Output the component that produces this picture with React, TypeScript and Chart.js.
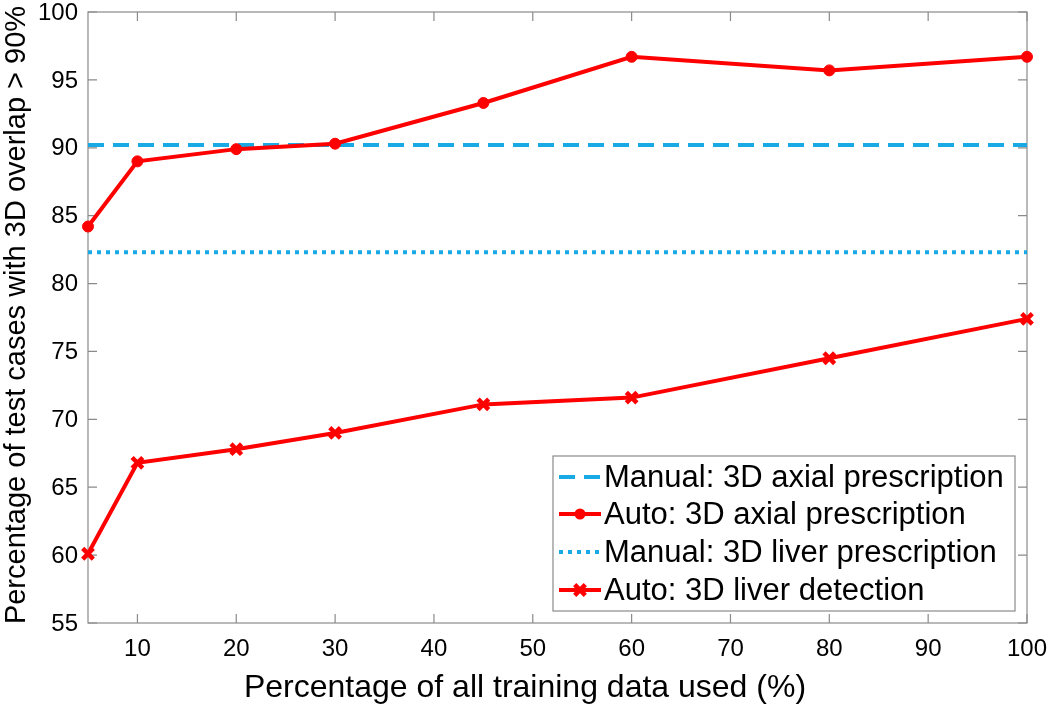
import React, { useEffect, useRef } from "react";
import { Chart, registerables } from "chart.js";
Chart.register(...registerables);

const trainingPct = [5, 10, 20, 30, 45, 60, 80, 100];
const autoAxial = [84.2, 89.0, 89.9, 90.3, 93.3, 96.7, 95.7, 96.7];
const autoLiver = [60.1, 66.8, 67.8, 69.0, 71.1, 71.6, 74.5, 77.4];
const manualAxial = [90.2, 90.2];
const manualLiver = [82.3, 82.3];
const manualX = [5, 100];
const xTicks = [10, 20, 30, 40, 50, 60, 70, 80, 90, 100];
const yTicks = [55, 60, 65, 70, 75, 80, 85, 90, 95, 100];
const seriesLabels = [
  "Manual: 3D axial prescription",
  "Auto: 3D axial prescription",
  "Manual: 3D liver prescription",
  "Auto: 3D liver detection",
];
const xTitle = "Percentage of all training data used (%)";
const yTitle = "Percentage of test cases with 3D overlap > 90%";

const FONT = "'Liberation Sans', Arial, Helvetica, sans-serif";
const BLUE = "#19aae6";
const RED = "#ff0000";
const FRAME = "#8a8a8a";

const framePlugin = {
  id: "frameTicks",
  beforeDatasetsDraw(chart: any) {
    const { ctx, chartArea: a, scales } = chart;
    const xs = scales.x;
    const ys = scales.y;
    ctx.save();
    ctx.strokeStyle = FRAME;
    ctx.lineWidth = 1.2;
    ctx.strokeRect(a.left, a.top, a.right - a.left, a.bottom - a.top);
    const tl = 9;
    ctx.beginPath();
    xTicks.forEach((v) => {
      const px = xs.getPixelForValue(v);
      ctx.moveTo(px, a.bottom);
      ctx.lineTo(px, a.bottom - tl);
      ctx.moveTo(px, a.top);
      ctx.lineTo(px, a.top + tl);
    });
    yTicks.forEach((v) => {
      const py = ys.getPixelForValue(v);
      ctx.moveTo(a.left, py);
      ctx.lineTo(a.left + tl, py);
      ctx.moveTo(a.right, py);
      ctx.lineTo(a.right - tl, py);
    });
    ctx.stroke();

    // tick labels
    ctx.fillStyle = "#000";
    ctx.font = `24px ${FONT}`;
    ctx.textAlign = "center";
    ctx.textBaseline = "middle";
    xTicks.forEach((v) => {
      ctx.fillText(String(v), xs.getPixelForValue(v), a.bottom + 26);
    });
    ctx.textAlign = "right";
    yTicks.forEach((v) => {
      ctx.fillText(String(v), a.left - 10, ys.getPixelForValue(v) + 1);
    });
    ctx.restore();
  },
  afterDraw(chart: any) {
    const { ctx } = chart;
    ctx.save();
    ctx.fillStyle = "#000";
    ctx.font = `32px ${FONT}`;
    ctx.textAlign = "center";
    ctx.textBaseline = "middle";
    ctx.fillText(xTitle, 525, 688);
    ctx.translate(17, 315);
    ctx.rotate(-Math.PI / 2);
    ctx.font = `29px ${FONT}`;
    ctx.fillText(yTitle, 0, 0);
    ctx.restore();

    // legend
    ctx.save();
    const bx = 553, by = 456, bw = 1015 - 553, bh = 611 - 456;
    ctx.fillStyle = "#fff";
    ctx.fillRect(bx, by, bw, bh);
    ctx.strokeStyle = FRAME;
    ctx.lineWidth = 1.2;
    ctx.strokeRect(bx, by, bw, bh);
    const rows = [477, 514, 552, 590];
    const ds = chart.data.datasets;
    const x0 = 559, x1 = 601;
    rows.forEach((ry, i) => {
      const d = ds[i];
      ctx.save();
      ctx.strokeStyle = d.borderColor;
      ctx.lineWidth = d.borderWidth;
      ctx.setLineDash(d.borderDash || []);
      ctx.beginPath();
      ctx.moveTo(x0, ry);
      ctx.lineTo(x1, ry);
      ctx.stroke();
      ctx.setLineDash([]);
      const cx = (x0 + x1) / 2;
      if (d.pointStyle === "circle" && d.pointRadius > 0) {
        ctx.fillStyle = d.pointBackgroundColor;
        ctx.beginPath();
        ctx.arc(cx, ry, d.pointRadius, 0, Math.PI * 2);
        ctx.fill();
      } else if (d.pointStyle === "crossRot" && d.pointRadius > 0) {
        const r = d.pointRadius * 0.707;
        ctx.strokeStyle = d.pointBorderColor;
        ctx.lineWidth = d.pointBorderWidth;
        ctx.beginPath();
        ctx.moveTo(cx - r, ry - r);
        ctx.lineTo(cx + r, ry + r);
        ctx.moveTo(cx - r, ry + r);
        ctx.lineTo(cx + r, ry - r);
        ctx.stroke();
      }
      ctx.restore();
      ctx.fillStyle = "#000";
      ctx.font = `31px ${FONT}`;
      ctx.textAlign = "left";
      ctx.textBaseline = "middle";
      ctx.fillText(d.label, 604, ry + 1);
    });
    ctx.restore();
  },
};

export default function App() {
  const ref = useRef<HTMLCanvasElement | null>(null);
  useEffect(() => {
    if (!ref.current) return;
    const chart = new Chart(ref.current, {
      type: "line",
      data: {
        datasets: [
          {
            label: seriesLabels[0],
            data: manualX.map((x, i) => ({ x, y: manualAxial[i] })),
            borderColor: BLUE,
            borderWidth: 4,
            borderDash: [16, 9],
            pointRadius: 0,
            pointStyle: "circle",
            order: 1,
            clip: false as any,
          },
          {
            label: seriesLabels[1],
            data: trainingPct.map((x, i) => ({ x, y: autoAxial[i] })),
            borderColor: RED,
            borderWidth: 4,
            pointStyle: "circle",
            pointRadius: 5.5,
            pointBackgroundColor: RED,
            pointBorderColor: RED,
            pointBorderWidth: 1,
            order: 0,
            clip: false as any,
          },
          {
            label: seriesLabels[2],
            data: manualX.map((x, i) => ({ x, y: manualLiver[i] })),
            borderColor: BLUE,
            borderWidth: 4,
            borderDash: [4, 5],
            pointRadius: 0,
            pointStyle: "circle",
            order: 1,
            clip: false as any,
          },
          {
            label: seriesLabels[3],
            data: trainingPct.map((x, i) => ({ x, y: autoLiver[i] })),
            borderColor: RED,
            borderWidth: 4,
            pointStyle: "crossRot",
            pointRadius: 7.5,
            pointBackgroundColor: RED,
            pointBorderColor: RED,
            pointBorderWidth: 4.5,
            order: 0,
            clip: false as any,
          },
        ] as any,
      },
      options: {
        animation: false,
        responsive: false,
        events: [],
        layout: { autoPadding: false, padding: { top: 12, right: 23, left: 0, bottom: 0 } } as any,
        plugins: { legend: { display: false }, tooltip: { enabled: false } },
        scales: {
          x: {
            type: "linear",
            min: 5,
            max: 100,
            grid: { display: false, drawTicks: false },
            border: { display: false },
            afterBuildTicks: (s: any) => {
              s.ticks = xTicks.map((v) => ({ value: v }));
            },
            afterFit: (s: any) => {
              s.height = 88;
              s.paddingLeft = 0;
              s.paddingRight = 0;
            },
            ticks: { display: false },
          },
          y: {
            type: "linear",
            min: 55,
            max: 100,
            grid: { display: false, drawTicks: false },
            border: { display: false },
            afterBuildTicks: (s: any) => {
              s.ticks = yTicks.map((v) => ({ value: v }));
            },
            afterFit: (s: any) => {
              s.width = 88;
              s.paddingTop = 0;
              s.paddingBottom = 0;
            },
            ticks: { display: false },
          },
        },
      },
      plugins: [framePlugin],
    });
    return () => chart.destroy();
  }, []);
  return (
    <div style={{ position: "fixed", left: 0, top: 0, width: 1050, height: 711, background: "#fff" }}>
      <canvas ref={ref} width={1050} height={711} />
    </div>
  );
}
